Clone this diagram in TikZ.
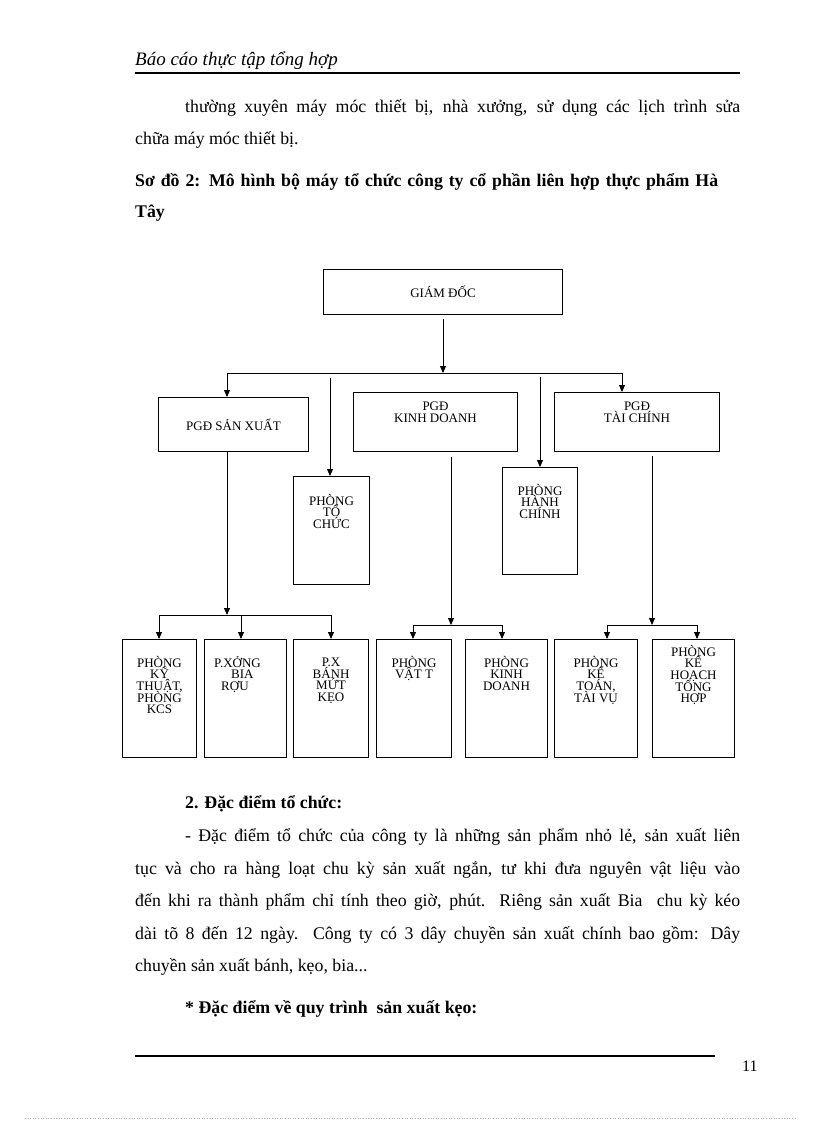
\documentclass[tikz,border=0pt]{standalone}
\usepackage{fontspec}
\setmainfont{Liberation Serif}
\usetikzlibrary{arrows.meta, positioning}

\begin{document}
\lineskiplimit=-20pt\relax
\begin{tikzpicture}[x=1pt, y=-1pt,
    box/.style={draw, line width=1pt, inner sep=0pt, anchor=north west,
        font=\fontsize{13}{11.6}\selectfont, align=center},
    lbl/.style={font=\fontsize{13}{11.6}\selectfont, align=center, inner sep=0pt},
    arr/.style={line width=0.9pt, -{Triangle[length=7pt,width=6pt]}},
    link/.style={line width=0.9pt},
    body/.style={font=\fontsize{17.8}{32}\selectfont, anchor=base west, inner sep=0pt}]
    \useasboundingbox (0,0) rectangle (816,1123);

    % Page header
    \node[body, font=\fontsize{19}{20}\selectfont\itshape] (hdr) at (135,66) {Báo cáo thực tập tổng hợp};
    \draw[line width=2pt] (135,73) -- (740,73);

    % Text above the chart
    \node[body] (p1a) at (185,113) {\makebox[555pt][s]{thường xuyên máy móc thiết bị, nhà xưởng, sử dụng các lịch trình sửa}};
    \node[body] (p1b) at (135,145) {chữa máy móc thiết bị.};
    \node[body, font=\fontsize{17.8}{32}\selectfont\bfseries] (cap1) at (135,187) {\makebox[583pt][s]{Sơ đồ 2: Mô hình bộ máy tổ chức công ty cổ phần liên hợp thực phẩm Hà}};
    \node[body, font=\fontsize{17.8}{32}\selectfont\bfseries] (cap2) at (135,218) {Tây};

    % Director
    \node[box, minimum width=239, minimum height=45] (gd) at (323,269) {GIÁM ĐỐC};

    % Deputy directors
    \node[box, minimum width=150, minimum height=54] (sx) at (158,397) {PGĐ SẢN XUẤT};
    \node[box, minimum width=164, minimum height=59] (kd) at (353,392) {};
    \node[lbl, below=10pt of kd.north] (kdT) {PGĐ\\KINH DOANH};
    \node[box, minimum width=165, minimum height=59] (tcb) at (554,392) {};
    \node[lbl, below=10pt of tcb.north] (tcbT) {PGĐ\\TÀI CHÍNH};

    % Offices under the director
    \node[box, minimum width=76, minimum height=108] (ptc) at (293,476) {};
    \node[lbl, below=18pt of ptc.north] (ptcT) {PHÒNG\\TỔ\\CHỨC};
    \node[box, minimum width=75, minimum height=107] (phc) at (502,467) {};
    \node[lbl, below=17pt of phc.north] (phcT) {PHÒNG\\HÀNH\\CHÍNH};

    % Bottom row
    \node[box, minimum width=74, minimum height=118] (b1) at (122,639) {};
    \node[lbl, below=17pt of b1.north] (b1T) {PHÒNG\\KỸ\\THUẬT,\\PHÒNG\\KCS};
    \node[box, minimum width=82, minimum height=118] (b2) at (204,639) {};
    \node[lbl, align=left, anchor=north west] (b2T) at (214,656) {P.XỞNG\\\hspace*{17pt}BIA\\\hspace*{7pt}RỢU};
    \node[box, minimum width=75, minimum height=118] (b3) at (293,639) {};
    \node[lbl, below=19pt of b3.north] (b3T) {P.X\\BÁNH\\MỨT\\KẸO};
    \node[box, minimum width=75, minimum height=118] (b4) at (376,639) {};
    \node[lbl, below=17pt of b4.north] (b4T) {PHÒNG\\VẬT T};
    \node[box, minimum width=82, minimum height=118] (b5) at (465,639) {};
    \node[lbl, below=17pt of b5.north] (b5T) {PHÒNG\\KINH\\DOANH};
    \node[box, minimum width=83, minimum height=118] (b6) at (554,639) {};
    \node[lbl, below=17pt of b6.north] (b6T) {PHÒNG\\KẾ\\TOÁN,\\TÀI VỤ};
    \node[box, minimum width=82, minimum height=118] (b7) at (652,639) {};
    \node[lbl, below=6pt of b7.north] (b7T) {PHÒNG\\KẾ\\HOẠCH\\TỔNG\\HỢP};

    % Connectors from the director
    \coordinate (busTop) at (443,373);
    \coordinate (busL) at (227,373);
    \coordinate (busR) at (622,373);
    \coordinate (tcTop) at (330,378);
    \coordinate (hcTop) at (540,377);
    \draw[arr] ([yshift=-4pt]gd.south) -- (busTop);
    \draw[link] (busL) -- (busR);
    \draw[arr] (busL) -- (busL |- sx.north);
    \draw[arr] (busR) -- (busR |- tcb.north);
    \draw[arr] (tcTop) -- (tcTop |- ptc.north);
    \draw[arr] (hcTop) -- (hcTop |- phc.north);

    % Production branch
    \coordinate (sxBus) at (227,615);
    \coordinate (sxL) at (159,615);
    \coordinate (sxM) at (241,615);
    \coordinate (sxR) at (331,615);
    \draw[arr] (busL |- sx.south) -- (sxBus);
    \draw[link] (sxL) -- (sxR);
    \draw[arr] (sxL) -- (sxL |- b1.north);
    \draw[arr] (sxM) -- (sxM |- b2.north);
    \draw[arr] (sxR) -- (sxR |- b3.north);

    % Business branch
    \coordinate (kdDown) at (451,457);
    \coordinate (kdBus) at (451,625);
    \coordinate (kdL) at (413,625);
    \coordinate (kdR) at (502,625);
    \draw[arr] (kdDown) -- (kdBus);
    \draw[link] (kdL) -- (kdR);
    \draw[arr] (kdL) -- (kdL |- b4.north);
    \draw[arr] (kdR) -- (kdR |- b5.north);

    % Finance branch
    \coordinate (tcDown) at (652,456);
    \coordinate (tcBus) at (652,625);
    \coordinate (tcL) at (607,625);
    \coordinate (tcR) at (697,625);
    \draw[arr] (tcDown) -- (tcBus);
    \draw[link] (tcL) -- (tcR);
    \draw[arr] (tcL) -- (tcL |- b6.north);
    \draw[arr] (tcR) -- (tcR |- b7.north);

    % Text below the chart
    \node[body, font=\fontsize{17.8}{32}\selectfont\bfseries] (s2) at (185,808) {2. Đặc điểm tổ chức:};
    \node[body] (p2a) at (185,841) {\makebox[555pt][s]{- Đặc điểm tổ chức của công ty là những sản phẩm nhỏ lẻ, sản xuất liên}};
    \node[body] (p2b) at (135,874) {\makebox[605pt][s]{tục và cho ra hàng loạt chu kỳ sản xuất ngắn, tư khi đưa nguyên vật liệu vào}};
    \node[body] (p2c) at (135,906) {\makebox[605pt][s]{đến khi ra thành phẩm chỉ tính theo giờ, phút. Riêng sản xuất Bia\ \ chu kỳ kéo}};
    \node[body] (p2d) at (135,939) {\makebox[605pt][s]{dài tõ 8 đến 12 ngày. Công ty có 3 dây chuyền sản xuất chính bao gồm: Dây}};
    \node[body] (p2e) at (135,971) {chuyền sản xuất bánh, kẹo, bia...};
    \node[body, font=\fontsize{17.8}{32}\selectfont\bfseries] (s3) at (185,1013) {* Đặc điểm về quy trình\ \ sản xuất kẹo:};

    % Page footer
    \draw[line width=2pt] (135,1056) -- (715,1056);
    \node[body, font=\fontsize{16}{18}\selectfont] (pgno) at (742,1071) {11};
    \draw[gray!60, line width=0.6pt, dotted] (25,1118) -- (795,1118);
\end{tikzpicture}
\end{document}
